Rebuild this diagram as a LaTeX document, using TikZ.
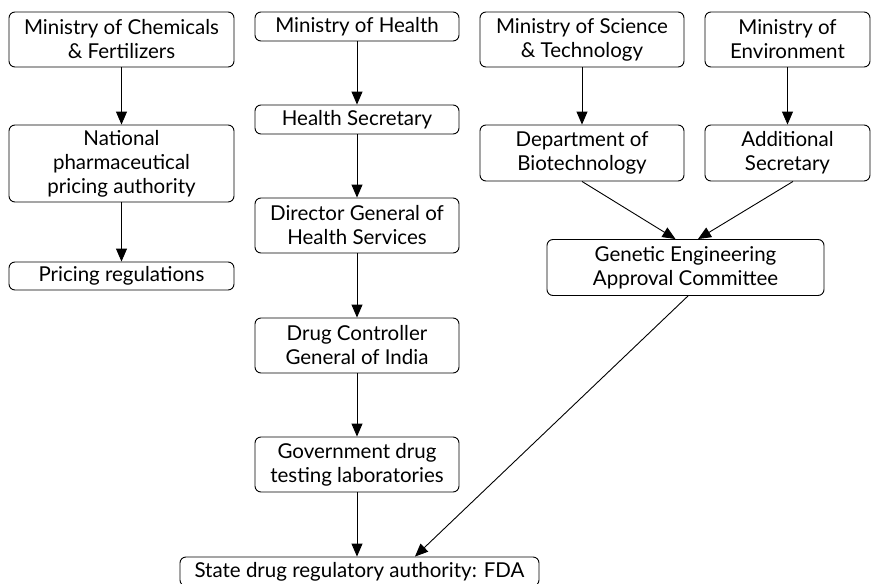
\documentclass[tikz,border=0pt]{standalone}
\usepackage{fontspec}
\setmainfont{Lato}
\usetikzlibrary{arrows.meta}
\tikzset{
  box/.style={draw, line width=0.9pt, rounded corners=6pt, align=center, inner sep=0pt,
    font=\fontsize{20.5}{24}\selectfont},
  arr/.style={line width=0.9pt, -{Triangle[length=13pt,width=11pt]}}
}
\begin{document}
\begin{tikzpicture}[x=1pt,y=-1pt]
\clip (0,0) rectangle (871,584);
\fill[white] (0,0) rectangle (871,584);
% left column
\node[box, minimum width=225pt, minimum height=55pt] (chem) at (121.5,39.5) {Ministry of Chemicals\\\& Fertilizers};
\node[box, minimum width=225pt, minimum height=77pt] (npa) at (121.5,163.5) {National\\pharmaceutical\\pricing authority};
\node[box, minimum width=225pt, minimum height=28pt] (price) at (121.5,276) {Pricing regulations};
% middle column
\node[box, minimum width=204pt, minimum height=29pt] (moh) at (357,26.5) {Ministry of Health};
\node[box, minimum width=204pt, minimum height=29pt] (hs) at (357,119.5) {Health Secretary};
\node[box, minimum width=204pt, minimum height=55pt] (dg) at (357,225.5) {Director General of\\Health Services};
\node[box, minimum width=204pt, minimum height=55pt] (dc) at (357,345.5) {Drug Controller\\General of India};
\node[box, minimum width=204pt, minimum height=55pt] (gov) at (357,464.5) {Government drug\\testing laboratories};
\node[box, minimum width=359pt, minimum height=29pt] (state) at (359.5,571.5) {State drug regulatory authority: FDA};
% right columns
\node[box, minimum width=204pt, minimum height=55pt] (sci) at (582,39.5) {Ministry of Science\\\& Technology};
\node[box, minimum width=165pt, minimum height=55pt] (env) at (787.5,39.5) {Ministry of\\Environment};
\node[box, minimum width=204pt, minimum height=56pt] (bio) at (582,153) {Department of\\Biotechnology};
\node[box, minimum width=165pt, minimum height=56pt] (add) at (787.5,153) {Additional\\Secretary};
\node[box, minimum width=277pt, minimum height=56pt] (geac) at (685.5,267.5) {Genetic Engineering\\Approval Committee};
% arrows
\draw[arr] (chem) -- (npa);
\draw[arr] (npa) -- (price);
\draw[arr] (moh) -- (hs);
\draw[arr] (hs) -- (dg);
\draw[arr] (dg) -- (dc);
\draw[arr] (dc) -- (gov);
\draw[arr] (gov.south) -- (gov.south |- state.north);
\draw[arr] (sci) -- (bio);
\draw[arr] (env) -- (add);
\draw[arr] (bio.south) -- ([xshift=-10pt]geac.north);
\draw[arr] ([xshift=5.5pt]add.south) -- ([xshift=12.5pt]geac.north);
\draw[arr] ([xshift=2.5pt]geac.south) -- ([xshift=55.5pt]state.north);
\end{tikzpicture}
\end{document}
